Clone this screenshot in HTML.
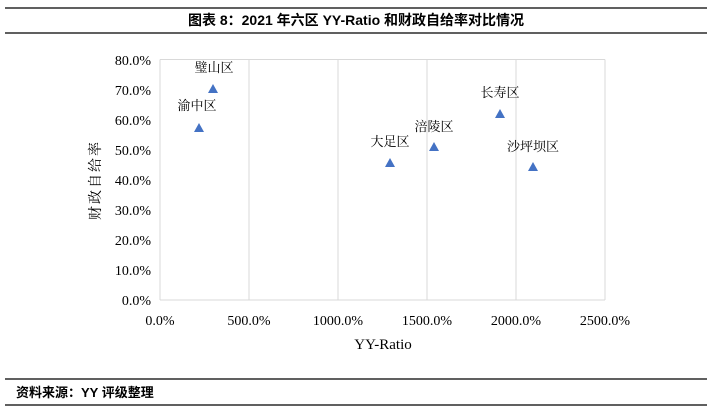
<!DOCTYPE html>
<html><head><meta charset="utf-8"><style>
body{margin:0;background:#fff;}
svg text{font-family:"Liberation Serif","Noto Serif CJK SC",serif;}
</style></head><body>
<svg width="712" height="413" viewBox="0 0 712 413" xmlns="http://www.w3.org/2000/svg">
<line x1="5" y1="8" x2="707" y2="8" stroke="#000" stroke-width="1.2"/>
<line x1="5" y1="33" x2="707" y2="33" stroke="#000" stroke-width="1.2"/>
<text x="356" y="25" text-anchor="middle" font-size="14" font-weight="bold" style='font-family:"Liberation Sans","Noto Sans CJK SC",sans-serif'>图表 8：2021 年六区 YY-Ratio 和财政自给率对比情况</text>
<g stroke="#d9d9d9" stroke-width="1">
<line x1="160" y1="59.5" x2="605" y2="59.5"/>
<line x1="249" y1="59.5" x2="249" y2="300"/>
<line x1="338" y1="59.5" x2="338" y2="300"/>
<line x1="427" y1="59.5" x2="427" y2="300"/>
<line x1="516" y1="59.5" x2="516" y2="300"/>
<line x1="605" y1="59.5" x2="605" y2="300"/>
<line x1="160" y1="59.5" x2="160" y2="300"/>
<line x1="160" y1="300" x2="605" y2="300"/>
</g>
<g font-size="14" text-anchor="end">
<text x="151" y="65">80.0%</text><text x="151" y="95">70.0%</text><text x="151" y="125">60.0%</text><text x="151" y="155">50.0%</text><text x="151" y="185">40.0%</text><text x="151" y="215">30.0%</text><text x="151" y="245">20.0%</text><text x="151" y="275">10.0%</text><text x="151" y="305">0.0%</text>
</g>
<g font-size="14" text-anchor="middle">
<text x="160" y="325">0.0%</text><text x="249" y="325">500.0%</text><text x="338" y="325">1000.0%</text><text x="427" y="325">1500.0%</text><text x="516" y="325">2000.0%</text><text x="605" y="325">2500.0%</text>
<text x="383" y="349" font-size="15">YY-Ratio</text>
</g>
<text transform="translate(100,180) rotate(-90)" text-anchor="middle" font-size="14" letter-spacing="2">财政自给率</text>
<g fill="#4472c4">
<polygon points="213,84 208,93 218,93"/>
<polygon points="199,123 194,132 204,132"/>
<polygon points="390,158 385,167 395,167"/>
<polygon points="434,142 429,151 439,151"/>
<polygon points="500,109 495,118 505,118"/>
<polygon points="533,162 528,171 538,171"/>
</g>
<g font-size="13" text-anchor="middle">
<text x="214" y="72">璧山区</text>
<text x="197" y="110">渝中区</text>
<text x="390" y="146">大足区</text>
<text x="434" y="131">涪陵区</text>
<text x="500" y="97">长寿区</text>
<text x="533" y="151">沙坪坝区</text>
</g>
<line x1="5" y1="379" x2="707" y2="379" stroke="#000" stroke-width="1.2"/>
<line x1="5" y1="405" x2="707" y2="405" stroke="#000" stroke-width="1.2"/>
<text x="16" y="397" font-size="13" font-weight="bold" style='font-family:"Liberation Sans","Noto Sans CJK SC",sans-serif'>资料来源：YY 评级整理</text>
</svg>
</body></html>
